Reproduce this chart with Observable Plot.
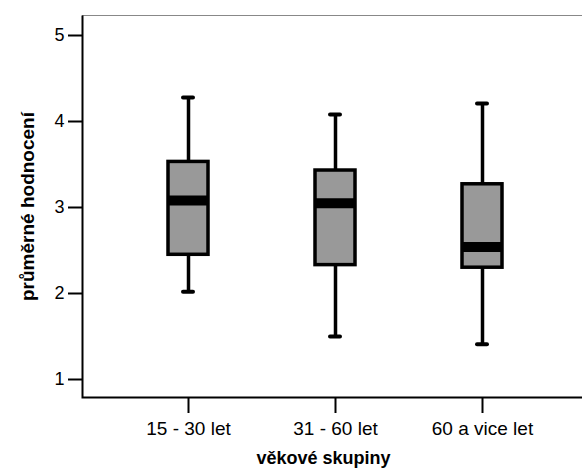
<!DOCTYPE html>
<html><head><meta charset="utf-8">
<script src="https://cdn.jsdelivr.net/npm/d3@7"></script>
<script src="https://cdn.jsdelivr.net/npm/@observablehq/plot@0.6"></script>
<style>body{margin:0;background:#fff;overflow:hidden}</style></head>
<body><div id="chart"></div>
<script>
const groups = ["15 - 30 let", "31 - 60 let", "60 a vice let"];
const mins = [2.02, 1.50, 1.41];
const q1s = [2.45, 2.33, 2.30];
const medians = [3.08, 3.05, 2.54];
const q3s = [3.53, 3.43, 3.27];
const maxs = [4.28, 4.08, 4.21];
const yTicks = [1, 2, 3, 4, 5];
const yLabel = "průměrné hodnocení";
const xLabel = "věkové skupiny";

const data = groups.map((g, i) => ({group: g, min: mins[i], q1: q1s[i], median: medians[i], q3: q3s[i], max: maxs[i]}));

const W = 582, H = 473, mL = 82, mR = 0, mT = 15, mB = 76, extra = 10;
const fw = W - mL - mR + extra, fh = H - mT - mB;

const chart = Plot.plot({
  width: W, height: H,
  marginLeft: mL, marginRight: mR, marginTop: mT, marginBottom: mB,
  style: {fontFamily: "'Liberation Sans', Arial, sans-serif", fontSize: "18px", color: "#000", background: "#fff", overflow: "hidden"},
  x: {type: "band", domain: groups, range: [107, 563], label: null},
  y: {domain: [1, 5], range: [379, 35], label: null},
  marks: [
    Plot.frame({stroke: "#888", strokeWidth: 1, insetRight: -extra}),
    Plot.frame({stroke: "#000", strokeWidth: 2, insetRight: -extra, strokeDasharray: `0 ${fw + fh} ${fw + fh}`}),
    Plot.axisY({ticks: yTicks, tickFormat: "d", tickSize: 14, tickPadding: 4, fontSize: 18, strokeWidth: 2, label: null}),
    Plot.axisX({tickSize: 16, tickPadding: 8, fontSize: 19, strokeWidth: 2, label: null}),
    Plot.ruleX(data, {x: "group", y1: "min", y2: "max", strokeWidth: 3.5}),
    Plot.tickY(data, {x: "group", y: "min", insetLeft: 61, insetRight: 61, strokeWidth: 4, strokeLinecap: "round"}),
    Plot.tickY(data, {x: "group", y: "max", insetLeft: 61, insetRight: 61, strokeWidth: 4, strokeLinecap: "round"}),
    Plot.barY(data, {x: "group", y1: "q1", y2: "q3", insetLeft: 46, insetRight: 46, fill: "#999", stroke: "#000", strokeWidth: 3.5}),
    Plot.tickY(data, {x: "group", y: "median", insetLeft: 46, insetRight: 46, strokeWidth: 10}),
    Plot.text([yLabel], {frameAnchor: "left", textAnchor: "middle", dx: -55, rotate: -90, fontSize: 19, fontWeight: "bold"}),
    Plot.text([xLabel], {frameAnchor: "bottom", textAnchor: "middle", dx: -9, dy: 66, fontSize: 18, fontWeight: "bold"})
  ]
});
document.getElementById("chart").append(chart);
</script>
</body></html>
